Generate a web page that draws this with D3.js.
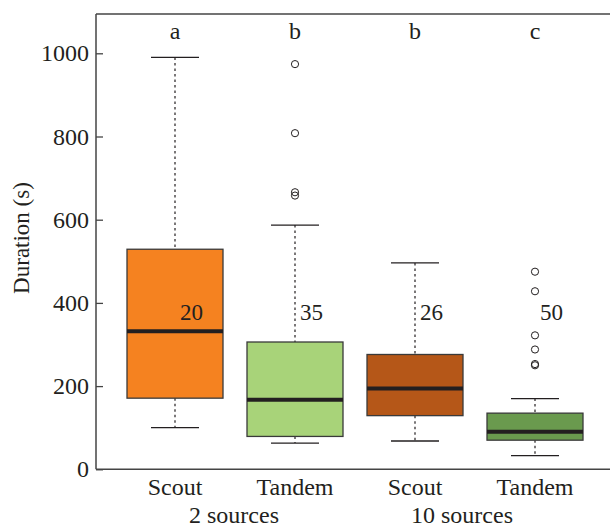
<!DOCTYPE html>
<html>
<head>
<meta charset="utf-8">
<script src="https://cdn.jsdelivr.net/npm/d3@7"></script>
<style>
  html, body { margin: 0; padding: 0; background: #fff; }
  svg { display: block; }
  text { font-family: "Liberation Serif", "DejaVu Serif", serif; fill: #231f20; }
</style>
</head>
<body>
<svg id="chart" width="610" height="530"></svg>
<script>
// Groups on the x axis
const categories = ["Scout 2", "Tandem 2", "Scout 10", "Tandem 10"];
const categoryLabels = ["Scout", "Tandem", "Scout", "Tandem"];
const groupLabels = ["2 sources", "10 sources"];

// Box statistics (seconds)
const whiskerLow = [100, 63, 68, 33];
const q1 = [171, 79, 129, 70];
const median = [332, 167, 194, 90];
const q3 = [529, 306, 276, 135];
const whiskerHigh = [990, 587, 496, 170];

// Outlying observations per group
const outliers = [
  [],
  [974, 808, 666, 658],
  [],
  [475, 428, 322, 288, 253, 250]
];

// Sample sizes and significance letters
const sampleSizes = ["20", "35", "26", "50"];
const letters = ["a", "b", "b", "c"];

const yTicks = [0, 200, 400, 600, 800, 1000];
const fills = ["#f58220", "#a8d379", "#b55718", "#6a9a4e"];

const svg = d3.select("#chart");
const margin = { left: 96, top: 14 };
const W = 610;

const x = d3.scaleBand()
  .domain(categories)
  .range([115, 595])
  .paddingInner(0.2)
  .paddingOuter(0.1);

const y = d3.scaleLinear()
  .domain([0, 1000])
  .range([469.3, 53.3]);

const ink = "#231f20";
const frame = "#444";

// Plot frame: top edge
svg.append("line")
  .attr("x1", margin.left).attr("x2", W)
  .attr("y1", margin.top).attr("y2", margin.top)
  .attr("stroke", frame).attr("stroke-width", 1.5);

// Y axis with inward ticks
const yAxis = svg.append("g")
  .attr("transform", `translate(${margin.left},0)`)
  .call(d3.axisLeft(y)
    .tickValues(yTicks)
    .tickFormat(d3.format("d"))
    .tickSizeInner(-7).tickSizeOuter(0).tickPadding(7));
yAxis.select(".domain").remove();
yAxis.selectAll(".tick line").attr("stroke", frame).attr("stroke-width", 1.3);
yAxis.selectAll(".tick text")
  .attr("font-size", 24)
  .attr("fill", ink);

svg.append("line")
  .attr("x1", margin.left).attr("x2", margin.left)
  .attr("y1", margin.top).attr("y2", y(0))
  .attr("stroke", frame).attr("stroke-width", 1.5);
svg.append("line")
  .attr("x1", margin.left).attr("x2", W)
  .attr("y1", y(0)).attr("y2", y(0))
  .attr("stroke", frame).attr("stroke-width", 1.5);

// Axis title
svg.append("text")
  .attr("transform", `translate(29,238) rotate(-90)`)
  .attr("text-anchor", "middle")
  .attr("font-size", 23)
  .text("Duration (s)");

const bw = x.bandwidth();
const boxW = 96;
const capW = 48;

const groups = svg.selectAll("g.box")
  .data(categories)
  .enter().append("g")
  .attr("class", "box");

groups.each(function (c, i) {
  const g = d3.select(this);
  const cx = x(c) + bw / 2;

  // dotted whiskers
  g.append("line")
    .attr("x1", cx).attr("x2", cx)
    .attr("y1", y(whiskerHigh[i])).attr("y2", y(q3[i]))
    .attr("stroke", ink).attr("stroke-width", 1.2).attr("stroke-dasharray", "2.5,3");
  g.append("line")
    .attr("x1", cx).attr("x2", cx)
    .attr("y1", y(q1[i])).attr("y2", y(whiskerLow[i]))
    .attr("stroke", ink).attr("stroke-width", 1.2).attr("stroke-dasharray", "2.5,3");

  // whisker caps
  [whiskerHigh[i], whiskerLow[i]].forEach(v => {
    g.append("line")
      .attr("x1", cx - capW / 2).attr("x2", cx + capW / 2)
      .attr("y1", y(v)).attr("y2", y(v))
      .attr("stroke", ink).attr("stroke-width", 1.3);
  });

  // box
  g.append("rect")
    .attr("x", cx - boxW / 2)
    .attr("y", y(q3[i]))
    .attr("width", boxW)
    .attr("height", y(q1[i]) - y(q3[i]))
    .attr("fill", fills[i])
    .attr("stroke", "#3a3a3a")
    .attr("stroke-width", 1.3);

  // median
  g.append("line")
    .attr("x1", cx - boxW / 2).attr("x2", cx + boxW / 2)
    .attr("y1", y(median[i])).attr("y2", y(median[i]))
    .attr("stroke", ink).attr("stroke-width", 4);

  // outliers
  g.selectAll("circle")
    .data(outliers[i])
    .enter().append("circle")
    .attr("cx", cx)
    .attr("cy", d => y(d))
    .attr("r", 3.6)
    .attr("fill", "none")
    .attr("stroke", ink)
    .attr("stroke-width", 1);

  // sample size
  g.append("text")
    .attr("x", cx + 5)
    .attr("y", y(360))
    .attr("font-size", 23)
    .text(sampleSizes[i]);

  // significance letter
  g.append("text")
    .attr("x", cx)
    .attr("y", 39)
    .attr("text-anchor", "middle")
    .attr("font-size", 24)
    .text(letters[i]);

  // category label
  g.append("text")
    .attr("x", cx)
    .attr("y", 495)
    .attr("text-anchor", "middle")
    .attr("font-size", 24)
    .text(categoryLabels[i]);
});

// Group labels under each pair
const groupCenters = [
  (x(categories[0]) + x(categories[1]) + bw) / 2 - 1,
  (x(categories[2]) + x(categories[3]) + bw) / 2 - 13
];
svg.selectAll("text.group")
  .data(groupLabels)
  .enter().append("text")
  .attr("class", "group")
  .attr("x", (d, i) => groupCenters[i])
  .attr("y", 523)
  .attr("text-anchor", "middle")
  .attr("font-size", 24)
  .text(d => d);
</script>
</body>
</html>
